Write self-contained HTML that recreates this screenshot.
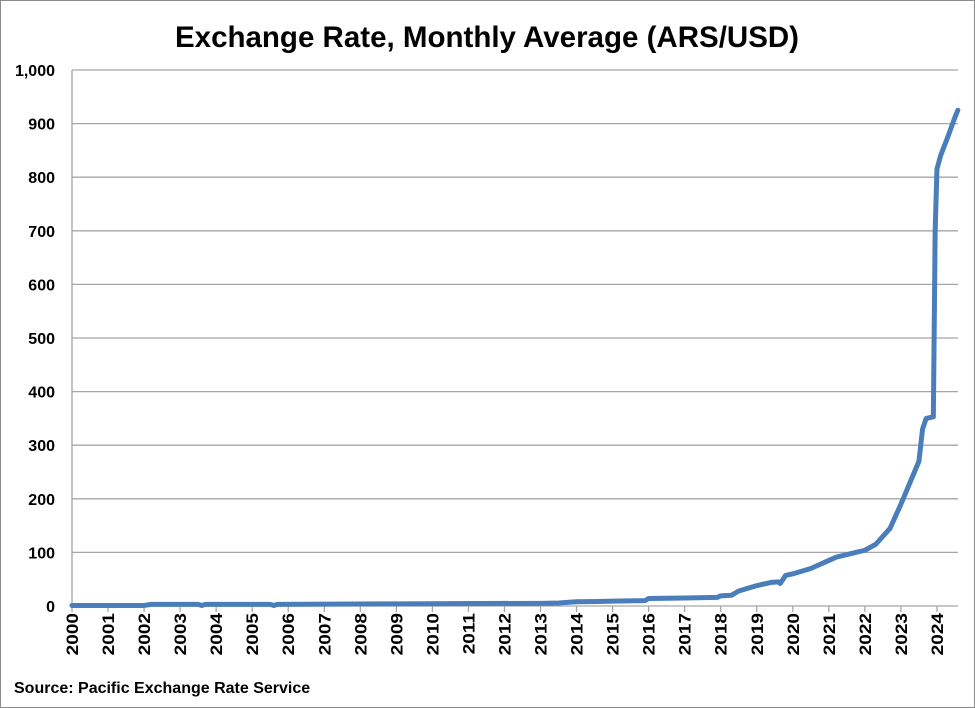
<!DOCTYPE html>
<html><head><meta charset="utf-8"><style>
body{margin:0;background:#fff;}
svg{display:block;font-family:"Liberation Sans",Arial,sans-serif;}
</style></head><body>
<svg id="chart" width="975" height="708">
<rect x="0.5" y="0.5" width="974" height="707" fill="#fff" stroke="#8c8c8c"/>
<text x="487" y="47" text-anchor="middle" font-size="29.5" font-weight="bold">Exchange Rate, Monthly Average (ARS/USD)</text>
<g id="grid"></g><g id="yticks"></g><g id="xticks"></g><g id="series"></g>
<text x="14" y="693" font-size="16" font-weight="bold">Source: Pacific Exchange Rate Service</text>
</svg>
<script>
const times=[2000,2002.0,2002.2,2002.5,2003.5,2003.6,2003.7,2005.5,2005.6,2005.7,2009,2013.0,2013.5,2014.0,2014.6,2015.0,2015.9,2016.0,2017.0,2017.9,2018.0,2018.3,2018.5,2019.0,2019.4,2019.6,2019.65,2019.8,2020.0,2020.5,2021.0,2021.2,2022.0,2022.3,2022.7,2023.0,2023.5,2023.6,2023.7,2023.9,2023.95,2024.0,2024.1,2024.3,2024.5,2024.58];
const rates=[1,1,3,3,3,1,3,3,1,3,4,5,5.5,8,8.5,9,10,14,15,16,19,20,28,38,44,45,42,57,60,70,85,91,104,115,145,190,270,330,350,353,700,815,840,875,912,925];
const yTicks=[0,100,200,300,400,500,600,700,800,900,1000];
const xYears=[2000,2001,2002,2003,2004,2005,2006,2007,2008,2009,2010,2011,2012,2013,2014,2015,2016,2017,2018,2019,2020,2021,2022,2023,2024];
const NS="http://www.w3.org/2000/svg";
const X0=72,X1=958,Y0=606,Y1=70;
const xs=t=>X0+(t-2000)*36.04;
const ys=v=>Y0-(v/1000)*(Y0-Y1);
function mk(tag,at,parent){const e=document.createElementNS(NS,tag);for(const k in at)e.setAttribute(k,at[k]);document.getElementById(parent).appendChild(e);return e;}
yTicks.forEach(v=>{
 const g=mk('line',{x1:X0,x2:X1,y1:ys(v),y2:ys(v),stroke:'#a6a6a6','stroke-width':1.3},'grid');
 
 
 const t=mk('text',{x:55,y:ys(v)+6,'text-anchor':'end','font-size':16,'font-weight':'bold'},'yticks');
 t.textContent=v.toLocaleString('en-US');
 
 
});
const ax=mk('line',{x1:X0,x2:X0,y1:Y1,y2:Y0,stroke:'#a6a6a6','stroke-width':1.3},'grid');


xYears.forEach(yr=>{
 const x=xs(yr);
 const tk=mk('line',{x1:x,x2:x,y1:Y0,y2:Y0+6,stroke:'#a6a6a6','stroke-width':1.3},'xticks');
 
 
 const t=mk('text',{x:0,y:0,'font-size':17,'font-weight':'bold',transform:`translate(${x+6},${Y0+7}) rotate(-90) scale(1.12,1)`,'text-anchor':'end'},'xticks');
 t.textContent=yr;
 
 
});
const p=mk('polyline',{points:times.map((t,i)=>xs(t)+','+ys(rates[i])).join(' '),fill:'none',stroke:'#4a7ebb','stroke-width':5,'stroke-linejoin':'round','stroke-linecap':'round'},'series');


</script>
</body></html>
